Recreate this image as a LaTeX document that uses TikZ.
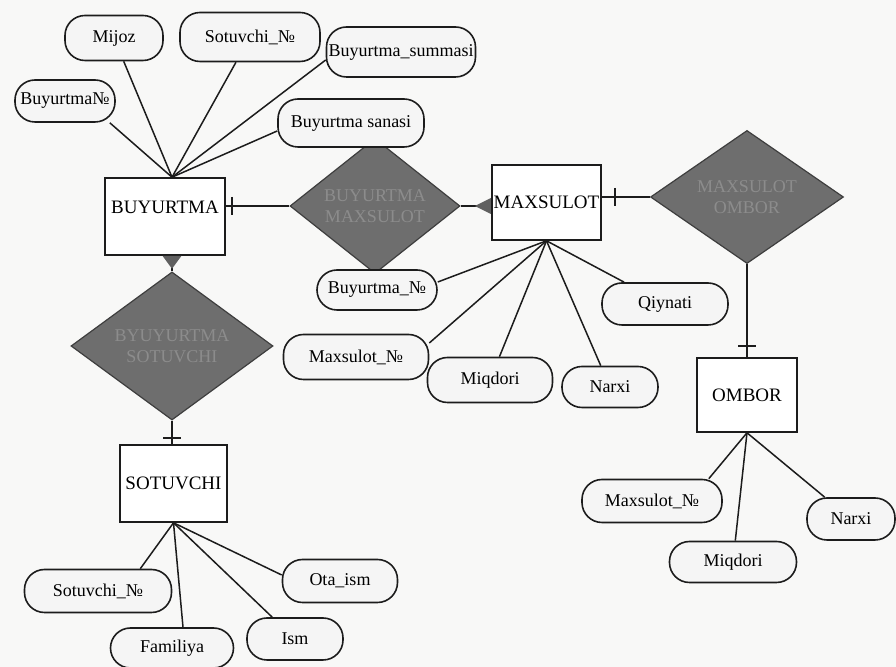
\documentclass[tikz,border=0pt]{standalone}
\usepackage{fontspec}
\setmainfont{Liberation Serif}
\usetikzlibrary{shapes.geometric}
\definecolor{paper}{RGB}{248,248,247}
\definecolor{ink}{RGB}{28,28,28}
\definecolor{relfill}{RGB}{110,110,110}
\definecolor{reltext}{RGB}{140,140,140}
\definecolor{attrfill}{RGB}{245,245,245}

\begin{document}
\begin{tikzpicture}[x=0.5pt,y=-0.5pt,
  entity/.style={draw=ink, line width=0.8pt, fill=white,
    font=\fontsize{9.5}{11.5}\selectfont, inner sep=1pt},
  attr/.style={draw=ink, line width=0.8pt, fill=attrfill, rounded corners=10pt,
    font=\fontsize{9}{11}\selectfont, inner sep=1pt},
  rel/.style={diamond, draw=ink!85, line width=0.6pt, fill=relfill, text=reltext,
    font=\fontsize{9}{10.5}\selectfont, align=center, inner sep=0pt},
  link/.style={draw=ink, line width=0.75pt},
  tri/.style={fill=ink!70},
]
% page
\fill[paper] (0,0) rectangle (896,667);
\useasboundingbox (0,0) rectangle (896,667);

% entities
\node[entity, minimum width=60pt, minimum height=38.5pt, text depth=9pt] (bu) at (165,216.5) {BUYURTMA};
\node[entity, minimum width=53.5pt, minimum height=37.5pt] (mx) at (546.5,202.5) {MAXSULOT};
\node[entity, minimum width=53.5pt, minimum height=38.5pt] (st) at (173.5,483.5) {SOTUVCHI};
\node[entity, minimum width=50pt, minimum height=37pt] (om) at (747,395) {OMBOR};

% relationships
\node[rel, minimum width=85pt, minimum height=54pt] (bm) at (375,206) {BUYURTMA\\MAXSULOT};
\node[rel, minimum width=101pt, minimum height=52.5pt] (bs) at (172,346) {BYUYURTMA\\SOTUVCHI};
\node[rel, minimum width=96.5pt, minimum height=52.5pt] (mo) at (747,197) {MAXSULOT\\OMBOR};

% attributes of BUYURTMA
\node[attr, minimum width=49pt, minimum height=22.5pt] (a1) at (114,38) {Mijoz};
\node[attr, minimum width=70pt, minimum height=24.5pt] (a2) at (250,37) {Sotuvchi\_№};
\node[attr, minimum width=64pt, minimum height=25pt] (a3) at (401,52) {Buyurtma\_summasi};
\node[attr, minimum width=50pt, minimum height=21pt] (a4) at (65,101) {Buyurtma№};
\node[attr, minimum width=73pt, minimum height=24pt] (a5) at (351,123) {Buyurtma sanasi};

% attributes of MAXSULOT
\node[attr, minimum width=60pt, minimum height=20pt] (b1) at (377,290) {Buyurtma\_№};
\node[attr, minimum width=72.5pt, minimum height=22.5pt] (b2) at (356,357) {Maxsulot\_№};
\node[attr, minimum width=62.5pt, minimum height=22.5pt] (b3) at (490,380) {Miqdori};
\node[attr, minimum width=48pt, minimum height=20.5pt] (b4) at (610,387) {Narxi};
\node[attr, minimum width=63pt, minimum height=21pt] (b5) at (665,304) {Qiynati};

% attributes of SOTUVCHI
\node[attr, minimum width=73.5pt, minimum height=21.5pt] (c1) at (98,591) {Sotuvchi\_№};
\node[attr, minimum width=61.5pt, minimum height=20pt] (c2) at (172,648) {Familiya};
\node[attr, minimum width=48pt, minimum height=21pt] (c3) at (295,639) {Ism};
\node[attr, minimum width=57.5pt, minimum height=21.5pt] (c4) at (340,581) {Ota\_ism};

% attributes of OMBOR
\node[attr, minimum width=70pt, minimum height=21.5pt] (d1) at (652,501) {Maxsulot\_№};
\node[attr, minimum width=63.5pt, minimum height=20.5pt] (d2) at (733,562) {Miqdori};
\node[attr, minimum width=44pt, minimum height=21pt] (d3) at (851,519) {Narxi};

% attribute links
\path ([xshift=3.5pt]bu.north) coordinate (bt);
\draw[link] (bt) -- ([xshift=-3pt]a4.south east);
\draw[link] (bt) -- (a1);
\draw[link] (bt) -- (a2);
\draw[link] (bt) -- ([yshift=-4pt]a3.west);
\draw[link] (bt) -- ([yshift=-4pt]a5.west);

\draw[link] (mx.south) -- ([yshift=4pt]b1.east);
\draw[link] (mx.south) -- ([yshift=7pt]b2.east);
\draw[link] (mx.south) -- (b3);
\draw[link] (mx.south) -- (b4);
\draw[link] (mx.south) -- (b5);

\draw[link] (st.south) -- ([xshift=-16pt]c1.north east);
\draw[link] (st.south) -- ([xshift=5.5pt]c2.north);
\draw[link] (st.south) -- (c3);
\draw[link] (st.south) -- ([yshift=3pt]c4.west);

\draw[link] (om.south) -- ([xshift=-7pt]d1.north east);
\draw[link] (om.south) -- (d2);
\draw[link] (om.south) -- (d3);

% BUYURTMA -- BUYURTMA MAXSULOT -- MAXSULOT
\path (bm.west -| bu.east) coordinate (buR);
\draw[link] (bm.west) -- (buR);
\draw[link] ([xshift=3pt]buR) ++(0,4.5pt) -- ++(0,-9pt);
\path (bm.east -| mx.west) coordinate (mxL);
\draw[link] (bm.east) -- (mxL);
\fill[tri] ([yshift=4pt]mxL) -- ([yshift=-4pt]mxL) -- ([xshift=-8pt]mxL) -- cycle;

% MAXSULOT -- MAXSULOT OMBOR -- OMBOR
\path (mo.west -| mx.east) coordinate (mxR);
\draw[link] (mo.west) -- (mxR);
\draw[link] ([xshift=6.5pt]mxR) ++(0,4.5pt) -- ++(0,-9pt);
\draw[link] (mo.south) -- (om.north);
\draw[link] ([yshift=5.5pt]om.north) ++(-4.5pt,0) -- ++(9pt,0);

% BUYURTMA -- BYUYURTMA SOTUVCHI -- SOTUVCHI
\path (bs.north |- bu.south) coordinate (buB);
\draw[link] (bs.north) -- (buB);
\fill[tri] ([xshift=-4.75pt]buB) -- ([xshift=4.75pt]buB) -- ([yshift=-6.5pt]buB) -- cycle;
\path (bs.south |- st.north) coordinate (stT);
\draw[link] (bs.south) -- (stT);
\draw[link] ([yshift=3pt]stT) ++(-4.5pt,0) -- ++(9pt,0);
\end{tikzpicture}
\end{document}
